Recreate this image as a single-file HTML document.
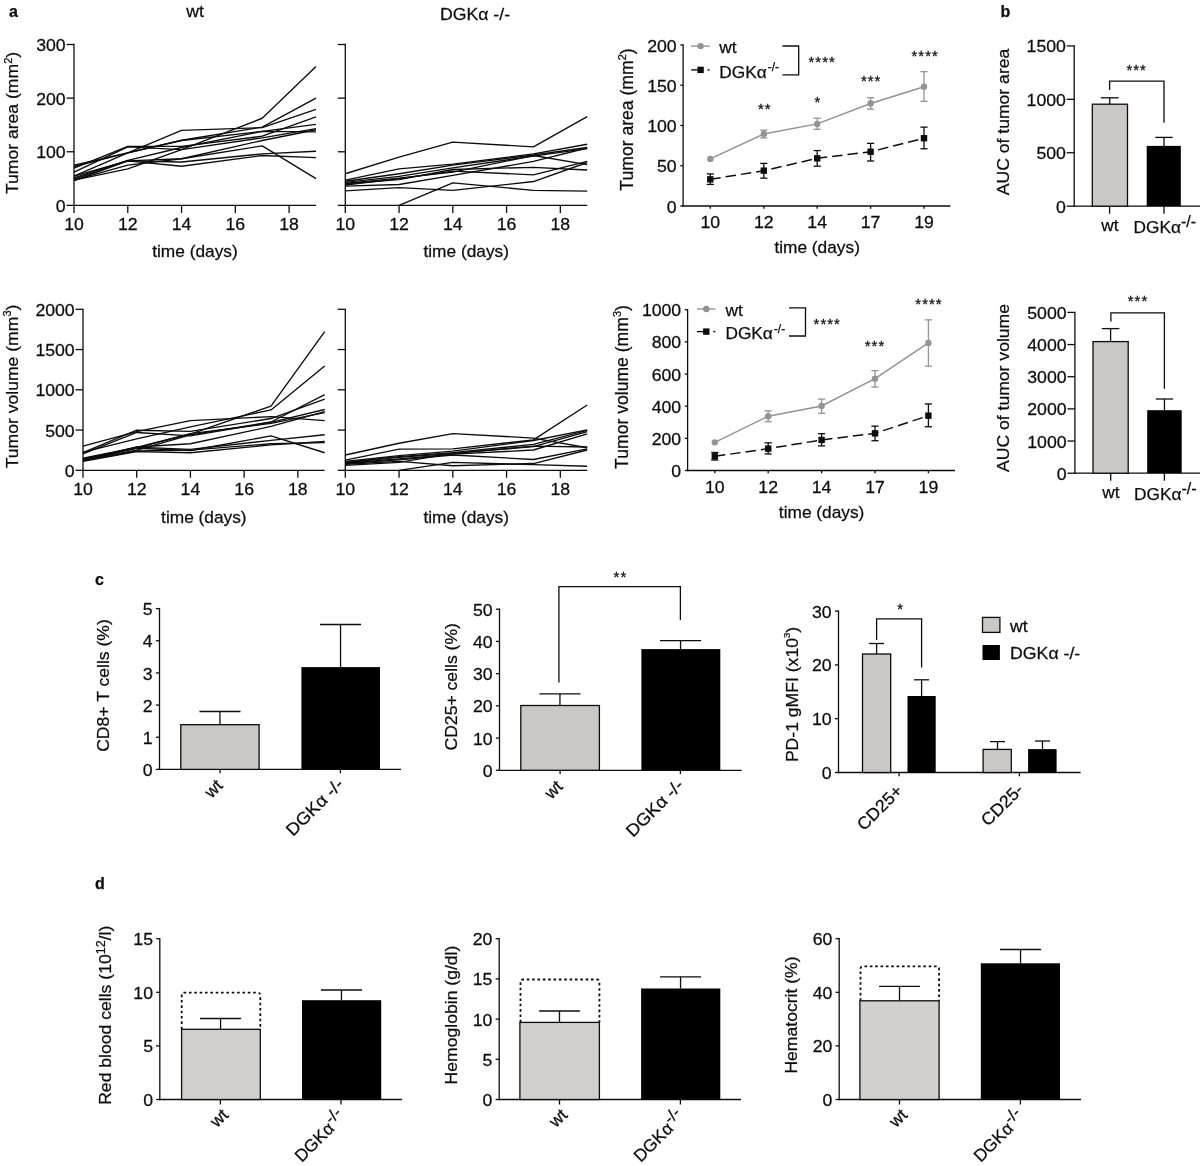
<!DOCTYPE html>
<html lang="en">
<head>
<meta charset="utf-8">
<title>Figure</title>
<style>
html,body{margin:0;padding:0;background:#fff;}
body{width:1200px;height:1166px;overflow:hidden;}
svg{display:block;font-family:'Liberation Sans', sans-serif;will-change:transform;}
</style>
</head>
<body>
<svg width="1200" height="1166" viewBox="0 0 1200 1166">
<rect x="0" y="0" width="1200" height="1166" fill="#ffffff"/>
<text transform="translate(9.00,17.00)" text-anchor="start" font-size="16" font-weight="bold" fill="#0d0d0d" stroke="#0d0d0d" stroke-width="0.25">a</text>
<text transform="translate(1000.50,16.50)" text-anchor="start" font-size="16" font-weight="bold" fill="#0d0d0d" stroke="#0d0d0d" stroke-width="0.25">b</text>
<text transform="translate(95.00,584.50)" text-anchor="start" font-size="16" font-weight="bold" fill="#0d0d0d" stroke="#0d0d0d" stroke-width="0.25">c</text>
<text transform="translate(95.00,888.50)" text-anchor="start" font-size="16" font-weight="bold" fill="#0d0d0d" stroke="#0d0d0d" stroke-width="0.25">d</text>
<text transform="translate(195.00,17.30) scale(1.04,1)" text-anchor="middle" font-size="17.0" fill="#0d0d0d" stroke="#0d0d0d" stroke-width="0.25">wt</text>
<text transform="translate(475.00,19.80) scale(1.04,1)" text-anchor="middle" font-size="17.0" fill="#0d0d0d" stroke="#0d0d0d" stroke-width="0.25">DGKα -/-</text>
<line x1="74.00" y1="206.05" x2="74.00" y2="43.85" stroke="#0d0d0d" stroke-width="1.3"/>
<line x1="66.50" y1="205.40" x2="74.00" y2="205.40" stroke="#0d0d0d" stroke-width="1.3"/>
<text transform="translate(65.70,211.99) scale(1.04,1)" text-anchor="end" font-size="17.0" fill="#0d0d0d" stroke="#0d0d0d" stroke-width="0.25">0</text>
<line x1="66.50" y1="151.77" x2="74.00" y2="151.77" stroke="#0d0d0d" stroke-width="1.3"/>
<text transform="translate(65.70,158.35) scale(1.04,1)" text-anchor="end" font-size="17.0" fill="#0d0d0d" stroke="#0d0d0d" stroke-width="0.25">100</text>
<line x1="66.50" y1="98.13" x2="74.00" y2="98.13" stroke="#0d0d0d" stroke-width="1.3"/>
<text transform="translate(65.70,104.72) scale(1.04,1)" text-anchor="end" font-size="17.0" fill="#0d0d0d" stroke="#0d0d0d" stroke-width="0.25">200</text>
<line x1="66.50" y1="44.50" x2="74.00" y2="44.50" stroke="#0d0d0d" stroke-width="1.3"/>
<text transform="translate(65.70,51.09) scale(1.04,1)" text-anchor="end" font-size="17.0" fill="#0d0d0d" stroke="#0d0d0d" stroke-width="0.25">300</text>
<line x1="73.35" y1="205.40" x2="316.00" y2="205.40" stroke="#0d0d0d" stroke-width="1.3"/>
<line x1="74.00" y1="205.40" x2="74.00" y2="212.90" stroke="#0d0d0d" stroke-width="1.3"/>
<text transform="translate(74.00,230.00) scale(1.04,1)" text-anchor="middle" font-size="17.0" fill="#0d0d0d" stroke="#0d0d0d" stroke-width="0.25">10</text>
<line x1="127.78" y1="205.40" x2="127.78" y2="212.90" stroke="#0d0d0d" stroke-width="1.3"/>
<text transform="translate(127.78,230.00) scale(1.04,1)" text-anchor="middle" font-size="17.0" fill="#0d0d0d" stroke="#0d0d0d" stroke-width="0.25">12</text>
<line x1="181.56" y1="205.40" x2="181.56" y2="212.90" stroke="#0d0d0d" stroke-width="1.3"/>
<text transform="translate(181.56,230.00) scale(1.04,1)" text-anchor="middle" font-size="17.0" fill="#0d0d0d" stroke="#0d0d0d" stroke-width="0.25">14</text>
<line x1="235.33" y1="205.40" x2="235.33" y2="212.90" stroke="#0d0d0d" stroke-width="1.3"/>
<text transform="translate(235.33,230.00) scale(1.04,1)" text-anchor="middle" font-size="17.0" fill="#0d0d0d" stroke="#0d0d0d" stroke-width="0.25">16</text>
<line x1="289.11" y1="205.40" x2="289.11" y2="212.90" stroke="#0d0d0d" stroke-width="1.3"/>
<text transform="translate(289.11,230.00) scale(1.04,1)" text-anchor="middle" font-size="17.0" fill="#0d0d0d" stroke="#0d0d0d" stroke-width="0.25">18</text>
<text transform="translate(195.00,257.20) scale(1.03,1)" text-anchor="middle" font-size="16.8" fill="#0d0d0d" stroke="#0d0d0d" stroke-width="0.25">time (days)</text>
<polyline points="74.00,180.19 127.78,168.93 181.56,149.62 262.22,118.25 316.00,66.49" fill="none" stroke="#0d0d0d" stroke-width="1.35" stroke-linejoin="round"/>
<polyline points="74.00,166.52 127.78,152.84 181.56,140.24 262.22,127.10 316.00,98.13" fill="none" stroke="#0d0d0d" stroke-width="1.35" stroke-linejoin="round"/>
<polyline points="74.00,165.18 127.78,152.84 181.56,130.31 262.22,127.63 316.00,109.40" fill="none" stroke="#0d0d0d" stroke-width="1.35" stroke-linejoin="round"/>
<polyline points="74.00,168.12 127.78,146.40 181.56,146.40 262.22,136.21 316.00,116.91" fill="none" stroke="#0d0d0d" stroke-width="1.35" stroke-linejoin="round"/>
<polyline points="74.00,177.78 127.78,160.35 181.56,147.48 262.22,131.39 316.00,124.41" fill="none" stroke="#0d0d0d" stroke-width="1.35" stroke-linejoin="round"/>
<polyline points="74.00,172.15 127.78,146.94 181.56,149.62 262.22,137.82 316.00,128.70" fill="none" stroke="#0d0d0d" stroke-width="1.35" stroke-linejoin="round"/>
<polyline points="74.00,180.19 127.78,165.18 181.56,158.74 262.22,140.50 316.00,129.78" fill="none" stroke="#0d0d0d" stroke-width="1.35" stroke-linejoin="round"/>
<polyline points="74.00,176.17 127.78,152.84 181.56,140.50 262.22,131.39 316.00,131.92" fill="none" stroke="#0d0d0d" stroke-width="1.35" stroke-linejoin="round"/>
<polyline points="74.00,176.17 127.78,160.88 181.56,161.96 262.22,153.91 316.00,151.23" fill="none" stroke="#0d0d0d" stroke-width="1.35" stroke-linejoin="round"/>
<polyline points="74.00,180.73 127.78,160.88 181.56,166.25 262.22,155.52 316.00,157.67" fill="none" stroke="#0d0d0d" stroke-width="1.35" stroke-linejoin="round"/>
<polyline points="74.00,179.12 127.78,160.88 181.56,158.74 262.22,145.87 316.00,178.58" fill="none" stroke="#0d0d0d" stroke-width="1.35" stroke-linejoin="round"/>
<line x1="345.30" y1="206.05" x2="345.30" y2="43.85" stroke="#0d0d0d" stroke-width="1.3"/>
<line x1="337.80" y1="205.40" x2="345.30" y2="205.40" stroke="#0d0d0d" stroke-width="1.3"/>
<line x1="337.80" y1="151.77" x2="345.30" y2="151.77" stroke="#0d0d0d" stroke-width="1.3"/>
<line x1="337.80" y1="98.13" x2="345.30" y2="98.13" stroke="#0d0d0d" stroke-width="1.3"/>
<line x1="337.80" y1="44.50" x2="345.30" y2="44.50" stroke="#0d0d0d" stroke-width="1.3"/>
<line x1="344.65" y1="205.40" x2="587.20" y2="205.40" stroke="#0d0d0d" stroke-width="1.3"/>
<line x1="345.30" y1="205.40" x2="345.30" y2="212.90" stroke="#0d0d0d" stroke-width="1.3"/>
<text transform="translate(345.30,230.00) scale(1.04,1)" text-anchor="middle" font-size="17.0" fill="#0d0d0d" stroke="#0d0d0d" stroke-width="0.25">10</text>
<line x1="399.06" y1="205.40" x2="399.06" y2="212.90" stroke="#0d0d0d" stroke-width="1.3"/>
<text transform="translate(399.06,230.00) scale(1.04,1)" text-anchor="middle" font-size="17.0" fill="#0d0d0d" stroke="#0d0d0d" stroke-width="0.25">12</text>
<line x1="452.81" y1="205.40" x2="452.81" y2="212.90" stroke="#0d0d0d" stroke-width="1.3"/>
<text transform="translate(452.81,230.00) scale(1.04,1)" text-anchor="middle" font-size="17.0" fill="#0d0d0d" stroke="#0d0d0d" stroke-width="0.25">14</text>
<line x1="506.57" y1="205.40" x2="506.57" y2="212.90" stroke="#0d0d0d" stroke-width="1.3"/>
<text transform="translate(506.57,230.00) scale(1.04,1)" text-anchor="middle" font-size="17.0" fill="#0d0d0d" stroke="#0d0d0d" stroke-width="0.25">16</text>
<line x1="560.32" y1="205.40" x2="560.32" y2="212.90" stroke="#0d0d0d" stroke-width="1.3"/>
<text transform="translate(560.32,230.00) scale(1.04,1)" text-anchor="middle" font-size="17.0" fill="#0d0d0d" stroke="#0d0d0d" stroke-width="0.25">18</text>
<text transform="translate(466.25,257.20) scale(1.03,1)" text-anchor="middle" font-size="16.8" fill="#0d0d0d" stroke="#0d0d0d" stroke-width="0.25">time (days)</text>
<polyline points="345.30,173.76 399.06,157.13 452.81,142.11 533.44,146.94 587.20,116.64" fill="none" stroke="#0d0d0d" stroke-width="1.35" stroke-linejoin="round"/>
<polyline points="345.30,180.19 399.06,168.93 452.81,164.10 533.44,153.91 587.20,144.26" fill="none" stroke="#0d0d0d" stroke-width="1.35" stroke-linejoin="round"/>
<polyline points="345.30,181.27 399.06,173.76 452.81,165.18 533.44,154.98 587.20,147.48" fill="none" stroke="#0d0d0d" stroke-width="1.35" stroke-linejoin="round"/>
<polyline points="345.30,182.34 399.06,176.44 452.81,167.86 533.44,156.06 587.20,148.55" fill="none" stroke="#0d0d0d" stroke-width="1.35" stroke-linejoin="round"/>
<polyline points="345.30,183.41 399.06,178.05 452.81,172.15 533.44,155.52 587.20,164.64" fill="none" stroke="#0d0d0d" stroke-width="1.35" stroke-linejoin="round"/>
<polyline points="345.30,183.95 399.06,179.66 452.81,169.47 533.44,167.32 587.20,170.00" fill="none" stroke="#0d0d0d" stroke-width="1.35" stroke-linejoin="round"/>
<polyline points="345.30,185.02 399.06,178.58 452.81,171.07 533.44,174.83 587.20,161.42" fill="none" stroke="#0d0d0d" stroke-width="1.35" stroke-linejoin="round"/>
<polyline points="345.30,186.09 399.06,184.48 452.81,175.37 533.44,161.42 587.20,148.01" fill="none" stroke="#0d0d0d" stroke-width="1.35" stroke-linejoin="round"/>
<polyline points="345.30,190.92 399.06,187.70 452.81,190.38 533.44,181.53 587.20,162.49" fill="none" stroke="#0d0d0d" stroke-width="1.35" stroke-linejoin="round"/>
<polyline points="399.06,205.40 452.81,182.87 533.44,190.38 587.20,191.19" fill="none" stroke="#0d0d0d" stroke-width="1.35" stroke-linejoin="round"/>
<text transform="translate(18.40,123.00) scale(0.98,1) rotate(-90)" text-anchor="middle" font-size="17.6" fill="#0d0d0d" stroke="#0d0d0d" stroke-width="0.25">Tumor area (mm<tspan dy="-7" font-size="11">2</tspan><tspan dy="7">)</tspan></text>
<line x1="83.00" y1="470.95" x2="83.00" y2="308.65" stroke="#0d0d0d" stroke-width="1.3"/>
<line x1="75.50" y1="470.30" x2="83.00" y2="470.30" stroke="#0d0d0d" stroke-width="1.3"/>
<text transform="translate(74.70,476.89) scale(1.04,1)" text-anchor="end" font-size="17.0" fill="#0d0d0d" stroke="#0d0d0d" stroke-width="0.25">0</text>
<line x1="75.50" y1="430.05" x2="83.00" y2="430.05" stroke="#0d0d0d" stroke-width="1.3"/>
<text transform="translate(74.70,436.64) scale(1.04,1)" text-anchor="end" font-size="17.0" fill="#0d0d0d" stroke="#0d0d0d" stroke-width="0.25">500</text>
<line x1="75.50" y1="389.80" x2="83.00" y2="389.80" stroke="#0d0d0d" stroke-width="1.3"/>
<text transform="translate(74.70,396.39) scale(1.04,1)" text-anchor="end" font-size="17.0" fill="#0d0d0d" stroke="#0d0d0d" stroke-width="0.25">1000</text>
<line x1="75.50" y1="349.55" x2="83.00" y2="349.55" stroke="#0d0d0d" stroke-width="1.3"/>
<text transform="translate(74.70,356.14) scale(1.04,1)" text-anchor="end" font-size="17.0" fill="#0d0d0d" stroke="#0d0d0d" stroke-width="0.25">1500</text>
<line x1="75.50" y1="309.30" x2="83.00" y2="309.30" stroke="#0d0d0d" stroke-width="1.3"/>
<text transform="translate(74.70,315.89) scale(1.04,1)" text-anchor="end" font-size="17.0" fill="#0d0d0d" stroke="#0d0d0d" stroke-width="0.25">2000</text>
<line x1="82.35" y1="470.30" x2="324.70" y2="470.30" stroke="#0d0d0d" stroke-width="1.3"/>
<line x1="83.00" y1="470.30" x2="83.00" y2="477.80" stroke="#0d0d0d" stroke-width="1.3"/>
<text transform="translate(83.00,494.90) scale(1.04,1)" text-anchor="middle" font-size="17.0" fill="#0d0d0d" stroke="#0d0d0d" stroke-width="0.25">10</text>
<line x1="136.71" y1="470.30" x2="136.71" y2="477.80" stroke="#0d0d0d" stroke-width="1.3"/>
<text transform="translate(136.71,494.90) scale(1.04,1)" text-anchor="middle" font-size="17.0" fill="#0d0d0d" stroke="#0d0d0d" stroke-width="0.25">12</text>
<line x1="190.42" y1="470.30" x2="190.42" y2="477.80" stroke="#0d0d0d" stroke-width="1.3"/>
<text transform="translate(190.42,494.90) scale(1.04,1)" text-anchor="middle" font-size="17.0" fill="#0d0d0d" stroke="#0d0d0d" stroke-width="0.25">14</text>
<line x1="244.13" y1="470.30" x2="244.13" y2="477.80" stroke="#0d0d0d" stroke-width="1.3"/>
<text transform="translate(244.13,494.90) scale(1.04,1)" text-anchor="middle" font-size="17.0" fill="#0d0d0d" stroke="#0d0d0d" stroke-width="0.25">16</text>
<line x1="297.84" y1="470.30" x2="297.84" y2="477.80" stroke="#0d0d0d" stroke-width="1.3"/>
<text transform="translate(297.84,494.90) scale(1.04,1)" text-anchor="middle" font-size="17.0" fill="#0d0d0d" stroke="#0d0d0d" stroke-width="0.25">18</text>
<text transform="translate(203.85,523.00) scale(1.03,1)" text-anchor="middle" font-size="16.8" fill="#0d0d0d" stroke="#0d0d0d" stroke-width="0.25">time (days)</text>
<polyline points="83.00,459.03 136.71,447.76 190.42,434.07 270.99,406.14 324.70,331.60" fill="none" stroke="#0d0d0d" stroke-width="1.35" stroke-linejoin="round"/>
<polyline points="83.00,452.19 136.71,438.91 190.42,426.83 270.99,409.93 324.70,366.05" fill="none" stroke="#0d0d0d" stroke-width="1.35" stroke-linejoin="round"/>
<polyline points="83.00,459.84 136.71,450.18 190.42,434.88 270.99,422.00 324.70,394.63" fill="none" stroke="#0d0d0d" stroke-width="1.35" stroke-linejoin="round"/>
<polyline points="83.00,446.15 136.71,431.66 190.42,420.55 270.99,416.69 324.70,420.55" fill="none" stroke="#0d0d0d" stroke-width="1.35" stroke-linejoin="round"/>
<polyline points="83.00,452.59 136.71,430.21 190.42,431.34 270.99,418.54 324.70,399.14" fill="none" stroke="#0d0d0d" stroke-width="1.35" stroke-linejoin="round"/>
<polyline points="83.00,453.80 136.71,432.47 190.42,435.85 270.99,422.32 324.70,409.52" fill="none" stroke="#0d0d0d" stroke-width="1.35" stroke-linejoin="round"/>
<polyline points="83.00,458.23 136.71,447.36 190.42,433.59 270.99,423.45 324.70,412.66" fill="none" stroke="#0d0d0d" stroke-width="1.35" stroke-linejoin="round"/>
<polyline points="83.00,460.64 136.71,446.96 190.42,443.74 270.99,426.43 324.70,411.54" fill="none" stroke="#0d0d0d" stroke-width="1.35" stroke-linejoin="round"/>
<polyline points="83.00,459.43 136.71,447.12 190.42,449.37 270.99,440.35 324.70,434.72" fill="none" stroke="#0d0d0d" stroke-width="1.35" stroke-linejoin="round"/>
<polyline points="83.00,461.28 136.71,451.62 190.42,452.75 270.99,444.86 324.70,441.48" fill="none" stroke="#0d0d0d" stroke-width="1.35" stroke-linejoin="round"/>
<polyline points="83.00,460.24 136.71,448.24 190.42,450.50 270.99,435.85 324.70,452.75" fill="none" stroke="#0d0d0d" stroke-width="1.35" stroke-linejoin="round"/>
<polyline points="83.00,460.80 136.71,450.98 190.42,450.18 270.99,443.74 324.70,442.61" fill="none" stroke="#0d0d0d" stroke-width="1.35" stroke-linejoin="round"/>
<line x1="345.30" y1="470.95" x2="345.30" y2="308.65" stroke="#0d0d0d" stroke-width="1.3"/>
<line x1="337.80" y1="470.30" x2="345.30" y2="470.30" stroke="#0d0d0d" stroke-width="1.3"/>
<line x1="337.80" y1="430.05" x2="345.30" y2="430.05" stroke="#0d0d0d" stroke-width="1.3"/>
<line x1="337.80" y1="389.80" x2="345.30" y2="389.80" stroke="#0d0d0d" stroke-width="1.3"/>
<line x1="337.80" y1="349.55" x2="345.30" y2="349.55" stroke="#0d0d0d" stroke-width="1.3"/>
<line x1="337.80" y1="309.30" x2="345.30" y2="309.30" stroke="#0d0d0d" stroke-width="1.3"/>
<line x1="344.65" y1="470.30" x2="587.20" y2="470.30" stroke="#0d0d0d" stroke-width="1.3"/>
<line x1="345.30" y1="470.30" x2="345.30" y2="477.80" stroke="#0d0d0d" stroke-width="1.3"/>
<text transform="translate(345.30,494.90) scale(1.04,1)" text-anchor="middle" font-size="17.0" fill="#0d0d0d" stroke="#0d0d0d" stroke-width="0.25">10</text>
<line x1="399.06" y1="470.30" x2="399.06" y2="477.80" stroke="#0d0d0d" stroke-width="1.3"/>
<text transform="translate(399.06,494.90) scale(1.04,1)" text-anchor="middle" font-size="17.0" fill="#0d0d0d" stroke="#0d0d0d" stroke-width="0.25">12</text>
<line x1="452.81" y1="470.30" x2="452.81" y2="477.80" stroke="#0d0d0d" stroke-width="1.3"/>
<text transform="translate(452.81,494.90) scale(1.04,1)" text-anchor="middle" font-size="17.0" fill="#0d0d0d" stroke="#0d0d0d" stroke-width="0.25">14</text>
<line x1="506.57" y1="470.30" x2="506.57" y2="477.80" stroke="#0d0d0d" stroke-width="1.3"/>
<text transform="translate(506.57,494.90) scale(1.04,1)" text-anchor="middle" font-size="17.0" fill="#0d0d0d" stroke="#0d0d0d" stroke-width="0.25">16</text>
<line x1="560.32" y1="470.30" x2="560.32" y2="477.80" stroke="#0d0d0d" stroke-width="1.3"/>
<text transform="translate(560.32,494.90) scale(1.04,1)" text-anchor="middle" font-size="17.0" fill="#0d0d0d" stroke="#0d0d0d" stroke-width="0.25">18</text>
<text transform="translate(466.25,523.00) scale(1.03,1)" text-anchor="middle" font-size="16.8" fill="#0d0d0d" stroke="#0d0d0d" stroke-width="0.25">time (days)</text>
<polyline points="345.30,455.00 399.06,443.25 452.81,433.59 533.44,438.10 587.20,447.76" fill="none" stroke="#0d0d0d" stroke-width="1.35" stroke-linejoin="round"/>
<polyline points="345.30,460.16 399.06,449.13 452.81,448.89 533.44,439.87 587.20,405.01" fill="none" stroke="#0d0d0d" stroke-width="1.35" stroke-linejoin="round"/>
<polyline points="345.30,461.44 399.06,455.65 452.81,451.14 533.44,440.51 587.20,429.81" fill="none" stroke="#0d0d0d" stroke-width="1.35" stroke-linejoin="round"/>
<polyline points="345.30,462.25 399.06,456.62 452.81,452.59 533.44,444.38 587.20,430.45" fill="none" stroke="#0d0d0d" stroke-width="1.35" stroke-linejoin="round"/>
<polyline points="345.30,462.65 399.06,457.42 452.81,453.39 533.44,446.63 587.20,431.58" fill="none" stroke="#0d0d0d" stroke-width="1.35" stroke-linejoin="round"/>
<polyline points="345.30,463.06 399.06,459.03 452.81,454.20 533.44,450.01 587.20,433.83" fill="none" stroke="#0d0d0d" stroke-width="1.35" stroke-linejoin="round"/>
<polyline points="345.30,463.46 399.06,459.84 452.81,455.00 533.44,459.51 587.20,448.89" fill="none" stroke="#0d0d0d" stroke-width="1.35" stroke-linejoin="round"/>
<polyline points="345.30,464.26 399.06,461.44 452.81,465.79 533.44,463.54 587.20,450.01" fill="none" stroke="#0d0d0d" stroke-width="1.35" stroke-linejoin="round"/>
<polyline points="345.30,465.31 399.06,462.41 452.81,453.39 533.44,446.15 587.20,446.96" fill="none" stroke="#0d0d0d" stroke-width="1.35" stroke-linejoin="round"/>
<polyline points="399.06,470.30 452.81,462.41 533.44,464.67 587.20,466.28" fill="none" stroke="#0d0d0d" stroke-width="1.35" stroke-linejoin="round"/>
<text transform="translate(18.20,386.50) scale(0.98,1) rotate(-90)" text-anchor="middle" font-size="17.6" fill="#0d0d0d" stroke="#0d0d0d" stroke-width="0.25">Tumor volume (mm<tspan dy="-7" font-size="11">3</tspan><tspan dy="7">)</tspan></text>
<line x1="683.10" y1="206.65" x2="683.10" y2="44.35" stroke="#0d0d0d" stroke-width="1.3"/>
<line x1="680.30" y1="206.00" x2="683.10" y2="206.00" stroke="#0d0d0d" stroke-width="1.3"/>
<text transform="translate(676.70,212.59) scale(1.04,1)" text-anchor="end" font-size="17.0" fill="#0d0d0d" stroke="#0d0d0d" stroke-width="0.25">0</text>
<line x1="680.30" y1="165.75" x2="683.10" y2="165.75" stroke="#0d0d0d" stroke-width="1.3"/>
<text transform="translate(676.70,172.34) scale(1.04,1)" text-anchor="end" font-size="17.0" fill="#0d0d0d" stroke="#0d0d0d" stroke-width="0.25">50</text>
<line x1="680.30" y1="125.50" x2="683.10" y2="125.50" stroke="#0d0d0d" stroke-width="1.3"/>
<text transform="translate(676.70,132.09) scale(1.04,1)" text-anchor="end" font-size="17.0" fill="#0d0d0d" stroke="#0d0d0d" stroke-width="0.25">100</text>
<line x1="680.30" y1="85.25" x2="683.10" y2="85.25" stroke="#0d0d0d" stroke-width="1.3"/>
<text transform="translate(676.70,91.84) scale(1.04,1)" text-anchor="end" font-size="17.0" fill="#0d0d0d" stroke="#0d0d0d" stroke-width="0.25">150</text>
<line x1="680.30" y1="45.00" x2="683.10" y2="45.00" stroke="#0d0d0d" stroke-width="1.3"/>
<text transform="translate(676.70,51.59) scale(1.04,1)" text-anchor="end" font-size="17.0" fill="#0d0d0d" stroke="#0d0d0d" stroke-width="0.25">200</text>
<line x1="682.45" y1="206.00" x2="950.40" y2="206.00" stroke="#0d0d0d" stroke-width="1.3"/>
<line x1="710.30" y1="206.00" x2="710.30" y2="208.80" stroke="#0d0d0d" stroke-width="1.3"/>
<text transform="translate(710.30,228.40) scale(1.04,1)" text-anchor="middle" font-size="17.0" fill="#0d0d0d" stroke="#0d0d0d" stroke-width="0.25">10</text>
<line x1="763.80" y1="206.00" x2="763.80" y2="208.80" stroke="#0d0d0d" stroke-width="1.3"/>
<text transform="translate(763.80,228.40) scale(1.04,1)" text-anchor="middle" font-size="17.0" fill="#0d0d0d" stroke="#0d0d0d" stroke-width="0.25">12</text>
<line x1="817.20" y1="206.00" x2="817.20" y2="208.80" stroke="#0d0d0d" stroke-width="1.3"/>
<text transform="translate(817.20,228.40) scale(1.04,1)" text-anchor="middle" font-size="17.0" fill="#0d0d0d" stroke="#0d0d0d" stroke-width="0.25">14</text>
<line x1="870.60" y1="206.00" x2="870.60" y2="208.80" stroke="#0d0d0d" stroke-width="1.3"/>
<text transform="translate(870.60,228.40) scale(1.04,1)" text-anchor="middle" font-size="17.0" fill="#0d0d0d" stroke="#0d0d0d" stroke-width="0.25">17</text>
<line x1="924.00" y1="206.00" x2="924.00" y2="208.80" stroke="#0d0d0d" stroke-width="1.3"/>
<text transform="translate(924.00,228.40) scale(1.04,1)" text-anchor="middle" font-size="17.0" fill="#0d0d0d" stroke="#0d0d0d" stroke-width="0.25">19</text>
<text transform="translate(817.15,253.30) scale(1.03,1)" text-anchor="middle" font-size="16.8" fill="#0d0d0d" stroke="#0d0d0d" stroke-width="0.25">time (days)</text>
<text transform="translate(633.00,119.50) scale(1.015,1) rotate(-90)" text-anchor="middle" font-size="17.6" fill="#0d0d0d" stroke="#0d0d0d" stroke-width="0.25">Tumor area (mm<tspan dy="-7" font-size="11">2</tspan><tspan dy="7">)</tspan></text>
<line x1="763.80" y1="137.98" x2="763.80" y2="130.17" stroke="#939393" stroke-width="1.3"/>
<line x1="760.20" y1="137.98" x2="767.40" y2="137.98" stroke="#939393" stroke-width="1.3"/>
<line x1="760.20" y1="130.17" x2="767.40" y2="130.17" stroke="#939393" stroke-width="1.3"/>
<line x1="817.20" y1="129.28" x2="817.20" y2="118.25" stroke="#939393" stroke-width="1.3"/>
<line x1="813.60" y1="129.28" x2="820.80" y2="129.28" stroke="#939393" stroke-width="1.3"/>
<line x1="813.60" y1="118.25" x2="820.80" y2="118.25" stroke="#939393" stroke-width="1.3"/>
<line x1="870.60" y1="109.16" x2="870.60" y2="97.73" stroke="#939393" stroke-width="1.3"/>
<line x1="867.00" y1="109.16" x2="874.20" y2="109.16" stroke="#939393" stroke-width="1.3"/>
<line x1="867.00" y1="97.73" x2="874.20" y2="97.73" stroke="#939393" stroke-width="1.3"/>
<line x1="924.00" y1="101.35" x2="924.00" y2="71.65" stroke="#939393" stroke-width="1.3"/>
<line x1="920.40" y1="101.35" x2="927.60" y2="101.35" stroke="#939393" stroke-width="1.3"/>
<line x1="920.40" y1="71.65" x2="927.60" y2="71.65" stroke="#939393" stroke-width="1.3"/>
<polyline points="710.30,158.91 763.80,134.03 817.20,123.89 870.60,103.44 924.00,86.70" fill="none" stroke="#939393" stroke-width="1.5" stroke-linejoin="miter"/>
<circle cx="710.30" cy="158.91" r="3.2" fill="#939393"/>
<circle cx="763.80" cy="134.03" r="3.2" fill="#939393"/>
<circle cx="817.20" cy="123.89" r="3.2" fill="#939393"/>
<circle cx="870.60" cy="103.44" r="3.2" fill="#939393"/>
<circle cx="924.00" cy="86.70" r="3.2" fill="#939393"/>
<line x1="710.30" y1="184.43" x2="710.30" y2="173.88" stroke="#0d0d0d" stroke-width="1.3"/>
<line x1="706.70" y1="184.43" x2="713.90" y2="184.43" stroke="#0d0d0d" stroke-width="1.3"/>
<line x1="706.70" y1="173.88" x2="713.90" y2="173.88" stroke="#0d0d0d" stroke-width="1.3"/>
<line x1="763.80" y1="178.15" x2="763.80" y2="163.42" stroke="#0d0d0d" stroke-width="1.3"/>
<line x1="760.20" y1="178.15" x2="767.40" y2="178.15" stroke="#0d0d0d" stroke-width="1.3"/>
<line x1="760.20" y1="163.42" x2="767.40" y2="163.42" stroke="#0d0d0d" stroke-width="1.3"/>
<line x1="817.20" y1="166.15" x2="817.20" y2="150.54" stroke="#0d0d0d" stroke-width="1.3"/>
<line x1="813.60" y1="166.15" x2="820.80" y2="166.15" stroke="#0d0d0d" stroke-width="1.3"/>
<line x1="813.60" y1="150.54" x2="820.80" y2="150.54" stroke="#0d0d0d" stroke-width="1.3"/>
<line x1="870.60" y1="161.00" x2="870.60" y2="143.37" stroke="#0d0d0d" stroke-width="1.3"/>
<line x1="867.00" y1="161.00" x2="874.20" y2="161.00" stroke="#0d0d0d" stroke-width="1.3"/>
<line x1="867.00" y1="143.37" x2="874.20" y2="143.37" stroke="#0d0d0d" stroke-width="1.3"/>
<line x1="924.00" y1="148.76" x2="924.00" y2="127.11" stroke="#0d0d0d" stroke-width="1.3"/>
<line x1="920.40" y1="148.76" x2="927.60" y2="148.76" stroke="#0d0d0d" stroke-width="1.3"/>
<line x1="920.40" y1="127.11" x2="927.60" y2="127.11" stroke="#0d0d0d" stroke-width="1.3"/>
<polyline points="710.30,179.35 763.80,170.66 817.20,158.34 870.60,151.74 924.00,138.22" fill="none" stroke="#0d0d0d" stroke-width="1.5" stroke-linejoin="miter" stroke-dasharray="10.5 5"/>
<rect x="707.10" y="176.15" width="6.40" height="6.40" fill="#0d0d0d"/>
<rect x="760.60" y="167.46" width="6.40" height="6.40" fill="#0d0d0d"/>
<rect x="814.00" y="155.14" width="6.40" height="6.40" fill="#0d0d0d"/>
<rect x="867.40" y="148.54" width="6.40" height="6.40" fill="#0d0d0d"/>
<rect x="920.80" y="135.02" width="6.40" height="6.40" fill="#0d0d0d"/>
<line x1="691.20" y1="46.10" x2="709.80" y2="46.10" stroke="#939393" stroke-width="1.4"/>
<circle cx="700.60" cy="46.10" r="3.2" fill="#939393"/>
<line x1="691.20" y1="69.90" x2="697.60" y2="69.90" stroke="#0d0d0d" stroke-width="1.4"/>
<line x1="707.60" y1="69.90" x2="709.60" y2="69.90" stroke="#0d0d0d" stroke-width="1.4"/>
<rect x="697.40" y="66.70" width="6.40" height="6.40" fill="#0d0d0d"/>
<text transform="translate(719.30,52.60)" text-anchor="start" font-size="17.3" fill="#0d0d0d" stroke="#0d0d0d" stroke-width="0.25">wt</text>
<text transform="translate(719.30,77.70)" text-anchor="start" font-size="17.3" fill="#0d0d0d" stroke="#0d0d0d" stroke-width="0.25">DGKα<tspan dy="-6.5" dx="1" font-size="12">-/-</tspan></text>
<polyline points="782.50,46.00 798.70,46.00 798.70,74.90 782.50,74.90" fill="none" stroke="#0d0d0d" stroke-width="1.3" stroke-linejoin="miter"/>
<text transform="translate(808.50,67.20) scale(1.04,1)" text-anchor="start" font-size="14.3" letter-spacing="1.0" fill="#0d0d0d" stroke="#0d0d0d" stroke-width="0.25">****</text>
<text transform="translate(764.70,114.20) scale(1.04,1)" text-anchor="middle" font-size="14.3" letter-spacing="1.0" fill="#0d0d0d" stroke="#0d0d0d" stroke-width="0.25">**</text>
<text transform="translate(818.00,107.20) scale(1.04,1)" text-anchor="middle" font-size="14.3" letter-spacing="1.0" fill="#0d0d0d" stroke="#0d0d0d" stroke-width="0.25">*</text>
<text transform="translate(871.20,86.20) scale(1.04,1)" text-anchor="middle" font-size="14.3" letter-spacing="1.0" fill="#0d0d0d" stroke="#0d0d0d" stroke-width="0.25">***</text>
<text transform="translate(925.20,60.90) scale(1.04,1)" text-anchor="middle" font-size="14.3" letter-spacing="1.0" fill="#0d0d0d" stroke="#0d0d0d" stroke-width="0.25">****</text>
<line x1="687.60" y1="471.15" x2="687.60" y2="309.05" stroke="#0d0d0d" stroke-width="1.3"/>
<line x1="684.80" y1="470.50" x2="687.60" y2="470.50" stroke="#0d0d0d" stroke-width="1.3"/>
<text transform="translate(681.20,477.09) scale(1.04,1)" text-anchor="end" font-size="17.0" fill="#0d0d0d" stroke="#0d0d0d" stroke-width="0.25">0</text>
<line x1="684.80" y1="438.34" x2="687.60" y2="438.34" stroke="#0d0d0d" stroke-width="1.3"/>
<text transform="translate(681.20,444.93) scale(1.04,1)" text-anchor="end" font-size="17.0" fill="#0d0d0d" stroke="#0d0d0d" stroke-width="0.25">200</text>
<line x1="684.80" y1="406.18" x2="687.60" y2="406.18" stroke="#0d0d0d" stroke-width="1.3"/>
<text transform="translate(681.20,412.77) scale(1.04,1)" text-anchor="end" font-size="17.0" fill="#0d0d0d" stroke="#0d0d0d" stroke-width="0.25">400</text>
<line x1="684.80" y1="374.02" x2="687.60" y2="374.02" stroke="#0d0d0d" stroke-width="1.3"/>
<text transform="translate(681.20,380.61) scale(1.04,1)" text-anchor="end" font-size="17.0" fill="#0d0d0d" stroke="#0d0d0d" stroke-width="0.25">600</text>
<line x1="684.80" y1="341.86" x2="687.60" y2="341.86" stroke="#0d0d0d" stroke-width="1.3"/>
<text transform="translate(681.20,348.45) scale(1.04,1)" text-anchor="end" font-size="17.0" fill="#0d0d0d" stroke="#0d0d0d" stroke-width="0.25">800</text>
<line x1="684.80" y1="309.70" x2="687.60" y2="309.70" stroke="#0d0d0d" stroke-width="1.3"/>
<text transform="translate(681.20,316.29) scale(1.04,1)" text-anchor="end" font-size="17.0" fill="#0d0d0d" stroke="#0d0d0d" stroke-width="0.25">1000</text>
<line x1="686.95" y1="470.50" x2="955.00" y2="470.50" stroke="#0d0d0d" stroke-width="1.3"/>
<line x1="714.80" y1="470.50" x2="714.80" y2="473.30" stroke="#0d0d0d" stroke-width="1.3"/>
<text transform="translate(714.80,493.40) scale(1.04,1)" text-anchor="middle" font-size="17.0" fill="#0d0d0d" stroke="#0d0d0d" stroke-width="0.25">10</text>
<line x1="768.20" y1="470.50" x2="768.20" y2="473.30" stroke="#0d0d0d" stroke-width="1.3"/>
<text transform="translate(768.20,493.40) scale(1.04,1)" text-anchor="middle" font-size="17.0" fill="#0d0d0d" stroke="#0d0d0d" stroke-width="0.25">12</text>
<line x1="821.60" y1="470.50" x2="821.60" y2="473.30" stroke="#0d0d0d" stroke-width="1.3"/>
<text transform="translate(821.60,493.40) scale(1.04,1)" text-anchor="middle" font-size="17.0" fill="#0d0d0d" stroke="#0d0d0d" stroke-width="0.25">14</text>
<line x1="875.00" y1="470.50" x2="875.00" y2="473.30" stroke="#0d0d0d" stroke-width="1.3"/>
<text transform="translate(875.00,493.40) scale(1.04,1)" text-anchor="middle" font-size="17.0" fill="#0d0d0d" stroke="#0d0d0d" stroke-width="0.25">17</text>
<line x1="928.40" y1="470.50" x2="928.40" y2="473.30" stroke="#0d0d0d" stroke-width="1.3"/>
<text transform="translate(928.40,493.40) scale(1.04,1)" text-anchor="middle" font-size="17.0" fill="#0d0d0d" stroke="#0d0d0d" stroke-width="0.25">19</text>
<text transform="translate(821.60,518.30) scale(1.03,1)" text-anchor="middle" font-size="16.8" fill="#0d0d0d" stroke="#0d0d0d" stroke-width="0.25">time (days)</text>
<text transform="translate(627.50,387.00) scale(0.99,1) rotate(-90)" text-anchor="middle" font-size="17.6" fill="#0d0d0d" stroke="#0d0d0d" stroke-width="0.25">Tumor volume (mm<tspan dy="-7" font-size="11">3</tspan><tspan dy="7">)</tspan></text>
<line x1="768.20" y1="421.62" x2="768.20" y2="410.84" stroke="#939393" stroke-width="1.3"/>
<line x1="764.60" y1="421.62" x2="771.80" y2="421.62" stroke="#939393" stroke-width="1.3"/>
<line x1="764.60" y1="410.84" x2="771.80" y2="410.84" stroke="#939393" stroke-width="1.3"/>
<line x1="821.60" y1="413.26" x2="821.60" y2="399.10" stroke="#939393" stroke-width="1.3"/>
<line x1="818.00" y1="413.26" x2="825.20" y2="413.26" stroke="#939393" stroke-width="1.3"/>
<line x1="818.00" y1="399.10" x2="825.20" y2="399.10" stroke="#939393" stroke-width="1.3"/>
<line x1="875.00" y1="387.04" x2="875.00" y2="370.64" stroke="#939393" stroke-width="1.3"/>
<line x1="871.40" y1="387.04" x2="878.60" y2="387.04" stroke="#939393" stroke-width="1.3"/>
<line x1="871.40" y1="370.64" x2="878.60" y2="370.64" stroke="#939393" stroke-width="1.3"/>
<line x1="928.40" y1="366.14" x2="928.40" y2="319.83" stroke="#939393" stroke-width="1.3"/>
<line x1="924.80" y1="366.14" x2="932.00" y2="366.14" stroke="#939393" stroke-width="1.3"/>
<line x1="924.80" y1="319.83" x2="932.00" y2="319.83" stroke="#939393" stroke-width="1.3"/>
<polyline points="714.80,442.36 768.20,416.15 821.60,406.02 875.00,378.68 928.40,342.99" fill="none" stroke="#939393" stroke-width="1.5" stroke-linejoin="miter"/>
<circle cx="714.80" cy="442.36" r="3.2" fill="#939393"/>
<circle cx="768.20" cy="416.15" r="3.2" fill="#939393"/>
<circle cx="821.60" cy="406.02" r="3.2" fill="#939393"/>
<circle cx="875.00" cy="378.68" r="3.2" fill="#939393"/>
<circle cx="928.40" cy="342.99" r="3.2" fill="#939393"/>
<line x1="714.80" y1="460.05" x2="714.80" y2="452.49" stroke="#0d0d0d" stroke-width="1.3"/>
<line x1="711.20" y1="460.05" x2="718.40" y2="460.05" stroke="#0d0d0d" stroke-width="1.3"/>
<line x1="711.20" y1="452.49" x2="718.40" y2="452.49" stroke="#0d0d0d" stroke-width="1.3"/>
<line x1="768.20" y1="453.94" x2="768.20" y2="442.84" stroke="#0d0d0d" stroke-width="1.3"/>
<line x1="764.60" y1="453.94" x2="771.80" y2="453.94" stroke="#0d0d0d" stroke-width="1.3"/>
<line x1="764.60" y1="442.84" x2="771.80" y2="442.84" stroke="#0d0d0d" stroke-width="1.3"/>
<line x1="821.60" y1="445.90" x2="821.60" y2="433.68" stroke="#0d0d0d" stroke-width="1.3"/>
<line x1="818.00" y1="445.90" x2="825.20" y2="445.90" stroke="#0d0d0d" stroke-width="1.3"/>
<line x1="818.00" y1="433.68" x2="825.20" y2="433.68" stroke="#0d0d0d" stroke-width="1.3"/>
<line x1="875.00" y1="440.75" x2="875.00" y2="426.12" stroke="#0d0d0d" stroke-width="1.3"/>
<line x1="871.40" y1="440.75" x2="878.60" y2="440.75" stroke="#0d0d0d" stroke-width="1.3"/>
<line x1="871.40" y1="426.12" x2="878.60" y2="426.12" stroke="#0d0d0d" stroke-width="1.3"/>
<line x1="928.40" y1="426.76" x2="928.40" y2="403.93" stroke="#0d0d0d" stroke-width="1.3"/>
<line x1="924.80" y1="426.76" x2="932.00" y2="426.76" stroke="#0d0d0d" stroke-width="1.3"/>
<line x1="924.80" y1="403.93" x2="932.00" y2="403.93" stroke="#0d0d0d" stroke-width="1.3"/>
<polyline points="714.80,456.35 768.20,448.63 821.60,439.95 875.00,433.36 928.40,415.67" fill="none" stroke="#0d0d0d" stroke-width="1.5" stroke-linejoin="miter" stroke-dasharray="10.5 5"/>
<rect x="711.60" y="453.15" width="6.40" height="6.40" fill="#0d0d0d"/>
<rect x="765.00" y="445.43" width="6.40" height="6.40" fill="#0d0d0d"/>
<rect x="818.40" y="436.75" width="6.40" height="6.40" fill="#0d0d0d"/>
<rect x="871.80" y="430.16" width="6.40" height="6.40" fill="#0d0d0d"/>
<rect x="925.20" y="412.47" width="6.40" height="6.40" fill="#0d0d0d"/>
<line x1="696.90" y1="309.00" x2="715.50" y2="309.00" stroke="#939393" stroke-width="1.4"/>
<circle cx="706.30" cy="309.00" r="3.2" fill="#939393"/>
<line x1="696.90" y1="331.60" x2="703.30" y2="331.60" stroke="#0d0d0d" stroke-width="1.4"/>
<line x1="713.30" y1="331.60" x2="715.30" y2="331.60" stroke="#0d0d0d" stroke-width="1.4"/>
<rect x="703.10" y="328.40" width="6.40" height="6.40" fill="#0d0d0d"/>
<text transform="translate(725.40,315.50)" text-anchor="start" font-size="17.3" fill="#0d0d0d" stroke="#0d0d0d" stroke-width="0.25">wt</text>
<text transform="translate(725.40,339.40)" text-anchor="start" font-size="17.3" fill="#0d0d0d" stroke="#0d0d0d" stroke-width="0.25">DGKα<tspan dy="-6.5" dx="1" font-size="12">-/-</tspan></text>
<polyline points="789.00,307.90 805.50,307.90 805.50,336.00 789.00,336.00" fill="none" stroke="#0d0d0d" stroke-width="1.3" stroke-linejoin="miter"/>
<text transform="translate(813.60,329.20) scale(1.04,1)" text-anchor="start" font-size="14.3" letter-spacing="1.0" fill="#0d0d0d" stroke="#0d0d0d" stroke-width="0.25">****</text>
<text transform="translate(875.00,351.20) scale(1.04,1)" text-anchor="middle" font-size="14.3" letter-spacing="1.0" fill="#0d0d0d" stroke="#0d0d0d" stroke-width="0.25">***</text>
<text transform="translate(929.00,309.20) scale(1.04,1)" text-anchor="middle" font-size="14.3" letter-spacing="1.0" fill="#0d0d0d" stroke="#0d0d0d" stroke-width="0.25">****</text>
<line x1="1074.20" y1="206.85" x2="1074.20" y2="45.25" stroke="#0d0d0d" stroke-width="1.3"/>
<line x1="1066.70" y1="206.20" x2="1074.20" y2="206.20" stroke="#0d0d0d" stroke-width="1.3"/>
<text transform="translate(1065.90,212.79) scale(1.04,1)" text-anchor="end" font-size="17.0" fill="#0d0d0d" stroke="#0d0d0d" stroke-width="0.25">0</text>
<line x1="1066.70" y1="152.77" x2="1074.20" y2="152.77" stroke="#0d0d0d" stroke-width="1.3"/>
<text transform="translate(1065.90,159.35) scale(1.04,1)" text-anchor="end" font-size="17.0" fill="#0d0d0d" stroke="#0d0d0d" stroke-width="0.25">500</text>
<line x1="1066.70" y1="99.33" x2="1074.20" y2="99.33" stroke="#0d0d0d" stroke-width="1.3"/>
<text transform="translate(1065.90,105.92) scale(1.04,1)" text-anchor="end" font-size="17.0" fill="#0d0d0d" stroke="#0d0d0d" stroke-width="0.25">1000</text>
<line x1="1066.70" y1="45.90" x2="1074.20" y2="45.90" stroke="#0d0d0d" stroke-width="1.3"/>
<text transform="translate(1065.90,52.49) scale(1.04,1)" text-anchor="end" font-size="17.0" fill="#0d0d0d" stroke="#0d0d0d" stroke-width="0.25">1500</text>
<line x1="1073.55" y1="206.20" x2="1200.00" y2="206.20" stroke="#0d0d0d" stroke-width="1.3"/>
<line x1="1109.75" y1="104.20" x2="1109.75" y2="97.80" stroke="#0d0d0d" stroke-width="1.3"/>
<line x1="1100.80" y1="97.80" x2="1118.70" y2="97.80" stroke="#0d0d0d" stroke-width="1.3"/>
<rect x="1092.30" y="104.20" width="35.20" height="102.00" fill="#c9c8c6" stroke="#0d0d0d" stroke-width="1.3"/>
<line x1="1164.00" y1="145.90" x2="1164.00" y2="137.40" stroke="#0d0d0d" stroke-width="1.3"/>
<line x1="1155.30" y1="137.40" x2="1172.70" y2="137.40" stroke="#0d0d0d" stroke-width="1.3"/>
<rect x="1146.70" y="145.90" width="34.10" height="60.30" fill="#000000"/>
<line x1="1109.60" y1="206.20" x2="1109.60" y2="213.70" stroke="#0d0d0d" stroke-width="1.3"/>
<line x1="1164.00" y1="206.20" x2="1164.00" y2="213.70" stroke="#0d0d0d" stroke-width="1.3"/>
<polyline points="1109.60,89.90 1109.60,81.10 1164.00,81.10 1164.00,122.80" fill="none" stroke="#0d0d0d" stroke-width="1.3" stroke-linejoin="miter"/>
<text transform="translate(1136.70,74.70) scale(1.04,1)" text-anchor="middle" font-size="14.3" letter-spacing="1.0" fill="#0d0d0d" stroke="#0d0d0d" stroke-width="0.25">***</text>
<text transform="translate(1110.00,230.50)" text-anchor="middle" font-size="17.3" fill="#0d0d0d" stroke="#0d0d0d" stroke-width="0.25">wt</text>
<text transform="translate(1133.50,233.00)" text-anchor="start" font-size="17.3" fill="#0d0d0d" stroke="#0d0d0d" stroke-width="0.25">DGKα<tspan dy="-6.5" font-size="16">-/-</tspan></text>
<text transform="translate(1009.00,122.00) scale(0.98,1) rotate(-90)" text-anchor="middle" font-size="17.6" fill="#0d0d0d" stroke="#0d0d0d" stroke-width="0.25">AUC of tumor area</text>
<line x1="1074.90" y1="473.85" x2="1074.90" y2="311.75" stroke="#0d0d0d" stroke-width="1.3"/>
<line x1="1067.40" y1="473.20" x2="1074.90" y2="473.20" stroke="#0d0d0d" stroke-width="1.3"/>
<text transform="translate(1066.60,479.79) scale(1.04,1)" text-anchor="end" font-size="17.0" fill="#0d0d0d" stroke="#0d0d0d" stroke-width="0.25">0</text>
<line x1="1067.40" y1="441.04" x2="1074.90" y2="441.04" stroke="#0d0d0d" stroke-width="1.3"/>
<text transform="translate(1066.60,447.63) scale(1.04,1)" text-anchor="end" font-size="17.0" fill="#0d0d0d" stroke="#0d0d0d" stroke-width="0.25">1000</text>
<line x1="1067.40" y1="408.88" x2="1074.90" y2="408.88" stroke="#0d0d0d" stroke-width="1.3"/>
<text transform="translate(1066.60,415.47) scale(1.04,1)" text-anchor="end" font-size="17.0" fill="#0d0d0d" stroke="#0d0d0d" stroke-width="0.25">2000</text>
<line x1="1067.40" y1="376.72" x2="1074.90" y2="376.72" stroke="#0d0d0d" stroke-width="1.3"/>
<text transform="translate(1066.60,383.31) scale(1.04,1)" text-anchor="end" font-size="17.0" fill="#0d0d0d" stroke="#0d0d0d" stroke-width="0.25">3000</text>
<line x1="1067.40" y1="344.56" x2="1074.90" y2="344.56" stroke="#0d0d0d" stroke-width="1.3"/>
<text transform="translate(1066.60,351.15) scale(1.04,1)" text-anchor="end" font-size="17.0" fill="#0d0d0d" stroke="#0d0d0d" stroke-width="0.25">4000</text>
<line x1="1067.40" y1="312.40" x2="1074.90" y2="312.40" stroke="#0d0d0d" stroke-width="1.3"/>
<text transform="translate(1066.60,318.99) scale(1.04,1)" text-anchor="end" font-size="17.0" fill="#0d0d0d" stroke="#0d0d0d" stroke-width="0.25">5000</text>
<line x1="1074.25" y1="473.20" x2="1200.00" y2="473.20" stroke="#0d0d0d" stroke-width="1.3"/>
<line x1="1110.60" y1="341.60" x2="1110.60" y2="328.60" stroke="#0d0d0d" stroke-width="1.3"/>
<line x1="1101.80" y1="328.60" x2="1119.40" y2="328.60" stroke="#0d0d0d" stroke-width="1.3"/>
<rect x="1093.00" y="341.60" width="35.20" height="131.60" fill="#c9c8c6" stroke="#0d0d0d" stroke-width="1.3"/>
<line x1="1164.45" y1="410.20" x2="1164.45" y2="399.00" stroke="#0d0d0d" stroke-width="1.3"/>
<line x1="1155.80" y1="399.00" x2="1173.10" y2="399.00" stroke="#0d0d0d" stroke-width="1.3"/>
<rect x="1147.20" y="410.20" width="34.50" height="63.00" fill="#000000"/>
<line x1="1110.70" y1="473.20" x2="1110.70" y2="480.70" stroke="#0d0d0d" stroke-width="1.3"/>
<line x1="1164.40" y1="473.20" x2="1164.40" y2="480.70" stroke="#0d0d0d" stroke-width="1.3"/>
<polyline points="1110.90,321.40 1110.90,312.90 1164.40,312.90 1164.40,388.80" fill="none" stroke="#0d0d0d" stroke-width="1.3" stroke-linejoin="miter"/>
<text transform="translate(1138.00,306.20) scale(1.04,1)" text-anchor="middle" font-size="14.3" letter-spacing="1.0" fill="#0d0d0d" stroke="#0d0d0d" stroke-width="0.25">***</text>
<text transform="translate(1111.00,497.50)" text-anchor="middle" font-size="17.3" fill="#0d0d0d" stroke="#0d0d0d" stroke-width="0.25">wt</text>
<text transform="translate(1134.00,500.00)" text-anchor="start" font-size="17.3" fill="#0d0d0d" stroke="#0d0d0d" stroke-width="0.25">DGKα<tspan dy="-6.5" font-size="16">-/-</tspan></text>
<text transform="translate(1009.00,388.00) scale(0.98,1) rotate(-90)" text-anchor="middle" font-size="17.6" fill="#0d0d0d" stroke="#0d0d0d" stroke-width="0.25">AUC of tumor volume</text>
<line x1="159.50" y1="770.05" x2="159.50" y2="607.95" stroke="#0d0d0d" stroke-width="1.3"/>
<line x1="155.90" y1="769.40" x2="159.50" y2="769.40" stroke="#0d0d0d" stroke-width="1.3"/>
<text transform="translate(152.70,775.99) scale(1.04,1)" text-anchor="end" font-size="17.0" fill="#0d0d0d" stroke="#0d0d0d" stroke-width="0.25">0</text>
<line x1="155.90" y1="737.24" x2="159.50" y2="737.24" stroke="#0d0d0d" stroke-width="1.3"/>
<text transform="translate(152.70,743.83) scale(1.04,1)" text-anchor="end" font-size="17.0" fill="#0d0d0d" stroke="#0d0d0d" stroke-width="0.25">1</text>
<line x1="155.90" y1="705.08" x2="159.50" y2="705.08" stroke="#0d0d0d" stroke-width="1.3"/>
<text transform="translate(152.70,711.67) scale(1.04,1)" text-anchor="end" font-size="17.0" fill="#0d0d0d" stroke="#0d0d0d" stroke-width="0.25">2</text>
<line x1="155.90" y1="672.92" x2="159.50" y2="672.92" stroke="#0d0d0d" stroke-width="1.3"/>
<text transform="translate(152.70,679.51) scale(1.04,1)" text-anchor="end" font-size="17.0" fill="#0d0d0d" stroke="#0d0d0d" stroke-width="0.25">3</text>
<line x1="155.90" y1="640.76" x2="159.50" y2="640.76" stroke="#0d0d0d" stroke-width="1.3"/>
<text transform="translate(152.70,647.35) scale(1.04,1)" text-anchor="end" font-size="17.0" fill="#0d0d0d" stroke="#0d0d0d" stroke-width="0.25">4</text>
<line x1="155.90" y1="608.60" x2="159.50" y2="608.60" stroke="#0d0d0d" stroke-width="1.3"/>
<text transform="translate(152.70,615.19) scale(1.04,1)" text-anchor="end" font-size="17.0" fill="#0d0d0d" stroke="#0d0d0d" stroke-width="0.25">5</text>
<line x1="158.85" y1="769.40" x2="401.00" y2="769.40" stroke="#0d0d0d" stroke-width="1.3"/>
<line x1="219.95" y1="724.70" x2="219.95" y2="711.50" stroke="#0d0d0d" stroke-width="1.3"/>
<line x1="199.40" y1="711.50" x2="240.50" y2="711.50" stroke="#0d0d0d" stroke-width="1.3"/>
<rect x="180.80" y="724.70" width="78.30" height="44.70" fill="#c9c8c6" stroke="#0d0d0d" stroke-width="1.3"/>
<line x1="340.55" y1="667.10" x2="340.55" y2="624.50" stroke="#0d0d0d" stroke-width="1.3"/>
<line x1="320.00" y1="624.50" x2="361.10" y2="624.50" stroke="#0d0d0d" stroke-width="1.3"/>
<rect x="301.40" y="667.10" width="78.60" height="102.30" fill="#000000"/>
<line x1="220.10" y1="769.40" x2="220.10" y2="773.20" stroke="#0d0d0d" stroke-width="1.3"/>
<line x1="340.40" y1="769.40" x2="340.40" y2="773.20" stroke="#0d0d0d" stroke-width="1.3"/>
<text transform="translate(223.70,786.70) rotate(-45)" text-anchor="end" font-size="17.3" fill="#0d0d0d" stroke="#0d0d0d" stroke-width="0.25">wt</text>
<text transform="translate(344.50,785.50) rotate(-45) scale(1.06,1)" text-anchor="end" font-size="17.3" fill="#0d0d0d" stroke="#0d0d0d" stroke-width="0.25">DGKα -/-</text>
<text transform="translate(108.90,685.50) scale(0.98,1) rotate(-90)" text-anchor="middle" font-size="17.6" fill="#0d0d0d" stroke="#0d0d0d" stroke-width="0.25">CD8+ T cells (%)</text>
<line x1="499.50" y1="770.95" x2="499.50" y2="608.55" stroke="#0d0d0d" stroke-width="1.3"/>
<line x1="495.90" y1="770.30" x2="499.50" y2="770.30" stroke="#0d0d0d" stroke-width="1.3"/>
<text transform="translate(492.70,776.89) scale(1.04,1)" text-anchor="end" font-size="17.0" fill="#0d0d0d" stroke="#0d0d0d" stroke-width="0.25">0</text>
<line x1="495.90" y1="738.08" x2="499.50" y2="738.08" stroke="#0d0d0d" stroke-width="1.3"/>
<text transform="translate(492.70,744.67) scale(1.04,1)" text-anchor="end" font-size="17.0" fill="#0d0d0d" stroke="#0d0d0d" stroke-width="0.25">10</text>
<line x1="495.90" y1="705.86" x2="499.50" y2="705.86" stroke="#0d0d0d" stroke-width="1.3"/>
<text transform="translate(492.70,712.45) scale(1.04,1)" text-anchor="end" font-size="17.0" fill="#0d0d0d" stroke="#0d0d0d" stroke-width="0.25">20</text>
<line x1="495.90" y1="673.64" x2="499.50" y2="673.64" stroke="#0d0d0d" stroke-width="1.3"/>
<text transform="translate(492.70,680.23) scale(1.04,1)" text-anchor="end" font-size="17.0" fill="#0d0d0d" stroke="#0d0d0d" stroke-width="0.25">30</text>
<line x1="495.90" y1="641.42" x2="499.50" y2="641.42" stroke="#0d0d0d" stroke-width="1.3"/>
<text transform="translate(492.70,648.01) scale(1.04,1)" text-anchor="end" font-size="17.0" fill="#0d0d0d" stroke="#0d0d0d" stroke-width="0.25">40</text>
<line x1="495.90" y1="609.20" x2="499.50" y2="609.20" stroke="#0d0d0d" stroke-width="1.3"/>
<text transform="translate(492.70,615.79) scale(1.04,1)" text-anchor="end" font-size="17.0" fill="#0d0d0d" stroke="#0d0d0d" stroke-width="0.25">50</text>
<line x1="498.85" y1="770.30" x2="741.60" y2="770.30" stroke="#0d0d0d" stroke-width="1.3"/>
<line x1="559.95" y1="705.50" x2="559.95" y2="693.80" stroke="#0d0d0d" stroke-width="1.3"/>
<line x1="539.40" y1="693.80" x2="580.50" y2="693.80" stroke="#0d0d0d" stroke-width="1.3"/>
<rect x="520.80" y="705.50" width="78.60" height="64.80" fill="#c9c8c6" stroke="#0d0d0d" stroke-width="1.3"/>
<line x1="680.55" y1="649.10" x2="680.55" y2="640.70" stroke="#0d0d0d" stroke-width="1.3"/>
<line x1="660.00" y1="640.70" x2="701.10" y2="640.70" stroke="#0d0d0d" stroke-width="1.3"/>
<rect x="641.40" y="649.10" width="78.90" height="121.20" fill="#000000"/>
<line x1="560.10" y1="770.30" x2="560.10" y2="774.10" stroke="#0d0d0d" stroke-width="1.3"/>
<line x1="680.40" y1="770.30" x2="680.40" y2="774.10" stroke="#0d0d0d" stroke-width="1.3"/>
<polyline points="558.90,682.40 558.90,586.70 680.40,586.70 680.40,620.00" fill="none" stroke="#0d0d0d" stroke-width="1.3" stroke-linejoin="miter"/>
<text transform="translate(620.40,582.20) scale(1.04,1)" text-anchor="middle" font-size="14.3" letter-spacing="1.0" fill="#0d0d0d" stroke="#0d0d0d" stroke-width="0.25">**</text>
<text transform="translate(563.70,787.70) rotate(-45)" text-anchor="end" font-size="17.3" fill="#0d0d0d" stroke="#0d0d0d" stroke-width="0.25">wt</text>
<text transform="translate(684.50,786.50) rotate(-45) scale(1.06,1)" text-anchor="end" font-size="17.3" fill="#0d0d0d" stroke="#0d0d0d" stroke-width="0.25">DGKα -/-</text>
<text transform="translate(456.60,686.80) scale(0.98,1) rotate(-90)" text-anchor="middle" font-size="17.6" fill="#0d0d0d" stroke="#0d0d0d" stroke-width="0.25">CD25+ cells (%)</text>
<line x1="838.50" y1="773.15" x2="838.50" y2="610.45" stroke="#0d0d0d" stroke-width="1.3"/>
<line x1="834.90" y1="772.50" x2="838.50" y2="772.50" stroke="#0d0d0d" stroke-width="1.3"/>
<text transform="translate(831.70,779.09) scale(1.04,1)" text-anchor="end" font-size="17.0" fill="#0d0d0d" stroke="#0d0d0d" stroke-width="0.25">0</text>
<line x1="834.90" y1="718.70" x2="838.50" y2="718.70" stroke="#0d0d0d" stroke-width="1.3"/>
<text transform="translate(831.70,725.29) scale(1.04,1)" text-anchor="end" font-size="17.0" fill="#0d0d0d" stroke="#0d0d0d" stroke-width="0.25">10</text>
<line x1="834.90" y1="664.90" x2="838.50" y2="664.90" stroke="#0d0d0d" stroke-width="1.3"/>
<text transform="translate(831.70,671.49) scale(1.04,1)" text-anchor="end" font-size="17.0" fill="#0d0d0d" stroke="#0d0d0d" stroke-width="0.25">20</text>
<line x1="834.90" y1="611.10" x2="838.50" y2="611.10" stroke="#0d0d0d" stroke-width="1.3"/>
<text transform="translate(831.70,617.69) scale(1.04,1)" text-anchor="end" font-size="17.0" fill="#0d0d0d" stroke="#0d0d0d" stroke-width="0.25">30</text>
<line x1="837.85" y1="772.50" x2="1080.60" y2="772.50" stroke="#0d0d0d" stroke-width="1.3"/>
<line x1="876.60" y1="654.00" x2="876.60" y2="643.50" stroke="#0d0d0d" stroke-width="1.3"/>
<line x1="869.10" y1="643.50" x2="884.10" y2="643.50" stroke="#0d0d0d" stroke-width="1.3"/>
<rect x="862.50" y="654.00" width="28.20" height="118.50" fill="#c9c8c6" stroke="#0d0d0d" stroke-width="1.3"/>
<line x1="921.60" y1="696.00" x2="921.60" y2="679.80" stroke="#0d0d0d" stroke-width="1.3"/>
<line x1="914.10" y1="679.80" x2="929.10" y2="679.80" stroke="#0d0d0d" stroke-width="1.3"/>
<rect x="907.50" y="696.00" width="28.20" height="76.50" fill="#000000"/>
<line x1="997.50" y1="749.40" x2="997.50" y2="741.60" stroke="#0d0d0d" stroke-width="1.3"/>
<line x1="990.00" y1="741.60" x2="1005.00" y2="741.60" stroke="#0d0d0d" stroke-width="1.3"/>
<rect x="983.10" y="749.40" width="28.20" height="23.10" fill="#c9c8c6" stroke="#0d0d0d" stroke-width="1.3"/>
<line x1="1042.50" y1="749.10" x2="1042.50" y2="741.00" stroke="#0d0d0d" stroke-width="1.3"/>
<line x1="1035.00" y1="741.00" x2="1050.00" y2="741.00" stroke="#0d0d0d" stroke-width="1.3"/>
<rect x="1028.10" y="749.10" width="28.50" height="23.40" fill="#000000"/>
<line x1="899.10" y1="772.50" x2="899.10" y2="776.30" stroke="#0d0d0d" stroke-width="1.3"/>
<line x1="1019.40" y1="772.50" x2="1019.40" y2="776.30" stroke="#0d0d0d" stroke-width="1.3"/>
<polyline points="876.60,639.90 876.60,618.90 921.60,618.90 921.60,667.50" fill="none" stroke="#0d0d0d" stroke-width="1.3" stroke-linejoin="miter"/>
<text transform="translate(900.60,613.90) scale(1.04,1)" text-anchor="middle" font-size="14.3" letter-spacing="1.0" fill="#0d0d0d" stroke="#0d0d0d" stroke-width="0.25">*</text>
<rect x="982.50" y="617.40" width="17.40" height="15.00" fill="#c9c8c6" stroke="#0d0d0d" stroke-width="1.3"/>
<rect x="982.50" y="645.00" width="17.40" height="15.00" fill="#000000"/>
<text transform="translate(1010.10,631.50) scale(1.04,1)" text-anchor="start" font-size="17.0" fill="#0d0d0d" stroke="#0d0d0d" stroke-width="0.25">wt</text>
<text transform="translate(1010.10,659.00) scale(1.04,1)" text-anchor="start" font-size="17.0" fill="#0d0d0d" stroke="#0d0d0d" stroke-width="0.25">DGKα -/-</text>
<text transform="translate(903.50,792.00) rotate(-45) scale(1.03,1)" text-anchor="end" font-size="17.3" fill="#0d0d0d" stroke="#0d0d0d" stroke-width="0.25">CD25+</text>
<text transform="translate(1024.50,790.70) rotate(-45) scale(1.03,1)" text-anchor="end" font-size="17.3" fill="#0d0d0d" stroke="#0d0d0d" stroke-width="0.25">CD25-</text>
<text transform="translate(797.50,694.50) scale(0.98,1) rotate(-90)" text-anchor="middle" font-size="17.6" fill="#0d0d0d" stroke="#0d0d0d" stroke-width="0.25">PD-1 gMFI (x10<tspan dy="-8" font-size="9.5">3</tspan><tspan dy="8">)</tspan></text>
<line x1="159.80" y1="1100.15" x2="159.80" y2="938.05" stroke="#0d0d0d" stroke-width="1.3"/>
<line x1="156.20" y1="1099.50" x2="159.80" y2="1099.50" stroke="#0d0d0d" stroke-width="1.3"/>
<text transform="translate(153.00,1106.09) scale(1.04,1)" text-anchor="end" font-size="17.0" fill="#0d0d0d" stroke="#0d0d0d" stroke-width="0.25">0</text>
<line x1="156.20" y1="1045.90" x2="159.80" y2="1045.90" stroke="#0d0d0d" stroke-width="1.3"/>
<text transform="translate(153.00,1052.49) scale(1.04,1)" text-anchor="end" font-size="17.0" fill="#0d0d0d" stroke="#0d0d0d" stroke-width="0.25">5</text>
<line x1="156.20" y1="992.30" x2="159.80" y2="992.30" stroke="#0d0d0d" stroke-width="1.3"/>
<text transform="translate(153.00,998.89) scale(1.04,1)" text-anchor="end" font-size="17.0" fill="#0d0d0d" stroke="#0d0d0d" stroke-width="0.25">10</text>
<line x1="156.20" y1="938.70" x2="159.80" y2="938.70" stroke="#0d0d0d" stroke-width="1.3"/>
<text transform="translate(153.00,945.29) scale(1.04,1)" text-anchor="end" font-size="17.0" fill="#0d0d0d" stroke="#0d0d0d" stroke-width="0.25">15</text>
<line x1="159.15" y1="1099.50" x2="401.90" y2="1099.50" stroke="#0d0d0d" stroke-width="1.3"/>
<path d="M181.70,1029.30 V995.20 Q181.70,992.70 184.20,992.70 H257.80 Q260.30,992.70 260.30,995.20 V1029.30" fill="none" stroke="#0d0d0d" stroke-width="1.8" stroke-dasharray="2.6 2.75"/>
<line x1="220.55" y1="1029.30" x2="220.55" y2="1018.50" stroke="#0d0d0d" stroke-width="1.3"/>
<line x1="200.00" y1="1018.50" x2="241.10" y2="1018.50" stroke="#0d0d0d" stroke-width="1.3"/>
<rect x="181.60" y="1029.30" width="78.70" height="70.20" fill="#d1d0ce" stroke="#0d0d0d" stroke-width="1.3"/>
<line x1="341.45" y1="1000.20" x2="341.45" y2="990.00" stroke="#0d0d0d" stroke-width="1.3"/>
<line x1="320.90" y1="990.00" x2="362.00" y2="990.00" stroke="#0d0d0d" stroke-width="1.3"/>
<rect x="302.00" y="1000.20" width="79.20" height="99.30" fill="#000000"/>
<line x1="220.40" y1="1099.50" x2="220.40" y2="1104.50" stroke="#0d0d0d" stroke-width="1.3"/>
<line x1="341.00" y1="1099.50" x2="341.00" y2="1104.50" stroke="#0d0d0d" stroke-width="1.3"/>
<text transform="translate(229.30,1116.00) rotate(-45)" text-anchor="end" font-size="17.3" fill="#0d0d0d" stroke="#0d0d0d" stroke-width="0.25">wt</text>
<text transform="translate(346.60,1118.10) rotate(-45)" text-anchor="end" font-size="17.3" fill="#0d0d0d" stroke="#0d0d0d" stroke-width="0.25">DGKα<tspan dy="-6" dx="0.5" font-size="16.5">-/-</tspan></text>
<text transform="translate(111.00,1015.30) scale(0.972,1) rotate(-90)" text-anchor="middle" font-size="17.6" fill="#0d0d0d" stroke="#0d0d0d" stroke-width="0.25">Red blood cells (10<tspan dy="-6.6" font-size="12.5">12</tspan><tspan dy="6.6">/l)</tspan></text>
<line x1="499.20" y1="1100.15" x2="499.20" y2="938.05" stroke="#0d0d0d" stroke-width="1.3"/>
<line x1="495.60" y1="1099.50" x2="499.20" y2="1099.50" stroke="#0d0d0d" stroke-width="1.3"/>
<text transform="translate(492.40,1106.09) scale(1.04,1)" text-anchor="end" font-size="17.0" fill="#0d0d0d" stroke="#0d0d0d" stroke-width="0.25">0</text>
<line x1="495.60" y1="1059.30" x2="499.20" y2="1059.30" stroke="#0d0d0d" stroke-width="1.3"/>
<text transform="translate(492.40,1065.89) scale(1.04,1)" text-anchor="end" font-size="17.0" fill="#0d0d0d" stroke="#0d0d0d" stroke-width="0.25">5</text>
<line x1="495.60" y1="1019.10" x2="499.20" y2="1019.10" stroke="#0d0d0d" stroke-width="1.3"/>
<text transform="translate(492.40,1025.69) scale(1.04,1)" text-anchor="end" font-size="17.0" fill="#0d0d0d" stroke="#0d0d0d" stroke-width="0.25">10</text>
<line x1="495.60" y1="978.90" x2="499.20" y2="978.90" stroke="#0d0d0d" stroke-width="1.3"/>
<text transform="translate(492.40,985.49) scale(1.04,1)" text-anchor="end" font-size="17.0" fill="#0d0d0d" stroke="#0d0d0d" stroke-width="0.25">15</text>
<line x1="495.60" y1="938.70" x2="499.20" y2="938.70" stroke="#0d0d0d" stroke-width="1.3"/>
<text transform="translate(492.40,945.29) scale(1.04,1)" text-anchor="end" font-size="17.0" fill="#0d0d0d" stroke="#0d0d0d" stroke-width="0.25">20</text>
<line x1="498.55" y1="1099.50" x2="741.00" y2="1099.50" stroke="#0d0d0d" stroke-width="1.3"/>
<path d="M520.50,1022.40 V982.00 Q520.50,979.50 523.00,979.50 H596.90 Q599.40,979.50 599.40,982.00 V1022.40" fill="none" stroke="#0d0d0d" stroke-width="1.8" stroke-dasharray="2.6 2.75"/>
<line x1="559.50" y1="1022.40" x2="559.50" y2="1011.00" stroke="#0d0d0d" stroke-width="1.3"/>
<line x1="539.10" y1="1011.00" x2="579.90" y2="1011.00" stroke="#0d0d0d" stroke-width="1.3"/>
<rect x="519.90" y="1022.40" width="79.50" height="77.10" fill="#d1d0ce" stroke="#0d0d0d" stroke-width="1.3"/>
<line x1="680.55" y1="988.50" x2="680.55" y2="976.80" stroke="#0d0d0d" stroke-width="1.3"/>
<line x1="660.00" y1="976.80" x2="701.10" y2="976.80" stroke="#0d0d0d" stroke-width="1.3"/>
<rect x="641.10" y="988.50" width="79.20" height="111.00" fill="#000000"/>
<line x1="559.50" y1="1099.50" x2="559.50" y2="1104.50" stroke="#0d0d0d" stroke-width="1.3"/>
<line x1="680.40" y1="1099.50" x2="680.40" y2="1104.50" stroke="#0d0d0d" stroke-width="1.3"/>
<text transform="translate(568.30,1116.00) rotate(-45)" text-anchor="end" font-size="17.3" fill="#0d0d0d" stroke="#0d0d0d" stroke-width="0.25">wt</text>
<text transform="translate(685.60,1118.10) rotate(-45)" text-anchor="end" font-size="17.3" fill="#0d0d0d" stroke="#0d0d0d" stroke-width="0.25">DGKα<tspan dy="-6" dx="0.5" font-size="16.5">-/-</tspan></text>
<text transform="translate(457.00,1015.00) scale(0.98,1) rotate(-90)" text-anchor="middle" font-size="17.6" fill="#0d0d0d" stroke="#0d0d0d" stroke-width="0.25">Hemoglobin (g/dl)</text>
<line x1="839.20" y1="1100.15" x2="839.20" y2="938.05" stroke="#0d0d0d" stroke-width="1.3"/>
<line x1="835.60" y1="1099.50" x2="839.20" y2="1099.50" stroke="#0d0d0d" stroke-width="1.3"/>
<text transform="translate(832.40,1106.09) scale(1.04,1)" text-anchor="end" font-size="17.0" fill="#0d0d0d" stroke="#0d0d0d" stroke-width="0.25">0</text>
<line x1="835.60" y1="1045.90" x2="839.20" y2="1045.90" stroke="#0d0d0d" stroke-width="1.3"/>
<text transform="translate(832.40,1052.49) scale(1.04,1)" text-anchor="end" font-size="17.0" fill="#0d0d0d" stroke="#0d0d0d" stroke-width="0.25">20</text>
<line x1="835.60" y1="992.30" x2="839.20" y2="992.30" stroke="#0d0d0d" stroke-width="1.3"/>
<text transform="translate(832.40,998.89) scale(1.04,1)" text-anchor="end" font-size="17.0" fill="#0d0d0d" stroke="#0d0d0d" stroke-width="0.25">40</text>
<line x1="835.60" y1="938.70" x2="839.20" y2="938.70" stroke="#0d0d0d" stroke-width="1.3"/>
<text transform="translate(832.40,945.29) scale(1.04,1)" text-anchor="end" font-size="17.0" fill="#0d0d0d" stroke="#0d0d0d" stroke-width="0.25">60</text>
<line x1="838.55" y1="1099.50" x2="1081.00" y2="1099.50" stroke="#0d0d0d" stroke-width="1.3"/>
<path d="M860.50,1000.80 V968.80 Q860.50,966.30 863.00,966.30 H936.60 Q939.10,966.30 939.10,968.80 V1000.80" fill="none" stroke="#0d0d0d" stroke-width="1.8" stroke-dasharray="2.6 2.75"/>
<line x1="899.50" y1="1000.80" x2="899.50" y2="986.40" stroke="#0d0d0d" stroke-width="1.3"/>
<line x1="879.10" y1="986.40" x2="919.90" y2="986.40" stroke="#0d0d0d" stroke-width="1.3"/>
<rect x="859.90" y="1000.80" width="79.20" height="98.70" fill="#d1d0ce" stroke="#0d0d0d" stroke-width="1.3"/>
<line x1="1020.55" y1="963.30" x2="1020.55" y2="949.50" stroke="#0d0d0d" stroke-width="1.3"/>
<line x1="1000.00" y1="949.50" x2="1041.10" y2="949.50" stroke="#0d0d0d" stroke-width="1.3"/>
<rect x="980.80" y="963.30" width="79.20" height="136.20" fill="#000000"/>
<line x1="899.50" y1="1099.50" x2="899.50" y2="1104.50" stroke="#0d0d0d" stroke-width="1.3"/>
<line x1="1020.40" y1="1099.50" x2="1020.40" y2="1104.50" stroke="#0d0d0d" stroke-width="1.3"/>
<text transform="translate(908.30,1116.00) rotate(-45)" text-anchor="end" font-size="17.3" fill="#0d0d0d" stroke="#0d0d0d" stroke-width="0.25">wt</text>
<text transform="translate(1025.60,1118.10) rotate(-45)" text-anchor="end" font-size="17.3" fill="#0d0d0d" stroke="#0d0d0d" stroke-width="0.25">DGKα<tspan dy="-6" dx="0.5" font-size="16.5">-/-</tspan></text>
<text transform="translate(797.00,1015.00) scale(0.98,1) rotate(-90)" text-anchor="middle" font-size="17.6" fill="#0d0d0d" stroke="#0d0d0d" stroke-width="0.25">Hematocrit (%)</text>
</svg>
</body>
</html>
